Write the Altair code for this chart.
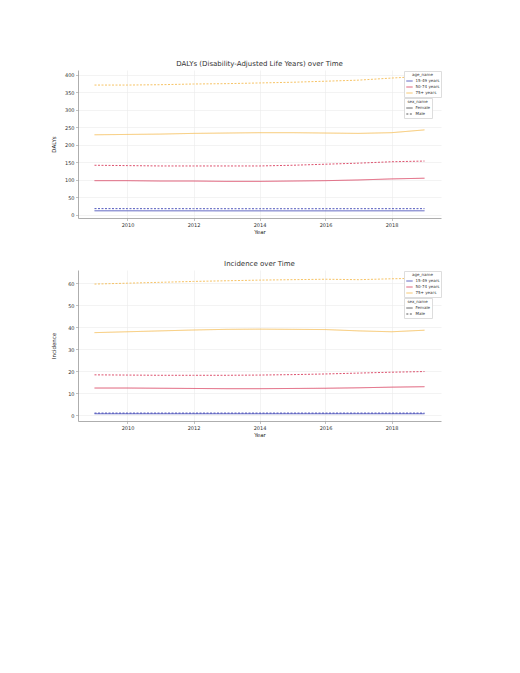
import altair as alt
import pandas as pd

years = list(range(2009, 2020))
ages = ["15-49 years", "50-74 years", "75+ years"]
sexes = ["Female", "Male"]

# DALYs
daly_1549_f = [12.0, 12.0, 11.9, 11.9, 11.8, 11.8, 11.8, 11.8, 11.9, 11.9, 12.0]
daly_1549_m = [18.2, 18.1, 18.0, 18.0, 17.9, 17.9, 17.9, 17.9, 18.0, 18.0, 18.1]
daly_5074_f = [98, 98, 97, 97, 96, 96, 97, 98, 100, 103, 105]
daly_5074_m = [142, 141, 140, 140, 140, 140, 142, 145, 148, 152, 154]
daly_75_f = [229, 230, 231, 233, 234, 235, 235, 234, 233, 235, 243]
daly_75_m = [371, 371, 372, 374, 375, 377, 379, 382, 385, 391, 396]

# Incidence
inc_1549_f = [0.6, 0.6, 0.6, 0.6, 0.6, 0.6, 0.6, 0.6, 0.6, 0.6, 0.6]
inc_1549_m = [0.9, 0.9, 0.9, 0.9, 0.9, 0.9, 0.9, 0.9, 0.9, 0.9, 0.9]
inc_5074_f = [12.3, 12.3, 12.2, 12.1, 12.0, 12.0, 12.1, 12.2, 12.4, 12.7, 12.9]
inc_5074_m = [18.3, 18.2, 18.1, 18.1, 18.1, 18.2, 18.4, 18.7, 19.1, 19.5, 19.8]
inc_75_f = [37.5, 37.9, 38.3, 38.7, 39.0, 39.1, 39.0, 38.9, 38.3, 37.9, 38.6]
inc_75_m = [59.6, 60.0, 60.4, 60.8, 61.1, 61.4, 61.6, 61.8, 61.6, 62.0, 62.3]

x_ticks = [2010, 2012, 2014, 2016, 2018]
daly_ticks = [0, 50, 100, 150, 200, 250, 300, 350, 400]
inc_ticks = [0, 10, 20, 30, 40, 50, 60]

colors = ["#3d45b5", "#d9405f", "#f5bd55"]


def frame(series):
    rows = []
    for (age, sex), vals in series.items():
        for y, v in zip(years, vals):
            rows.append({"year": y, "age_name": age, "sex_name": sex, "val": v})
    return pd.DataFrame(rows)


daly_df = frame({
    ("15-49 years", "Female"): daly_1549_f,
    ("15-49 years", "Male"): daly_1549_m,
    ("50-74 years", "Female"): daly_5074_f,
    ("50-74 years", "Male"): daly_5074_m,
    ("75+ years", "Female"): daly_75_f,
    ("75+ years", "Male"): daly_75_m,
})
inc_df = frame({
    ("15-49 years", "Female"): inc_1549_f,
    ("15-49 years", "Male"): inc_1549_m,
    ("50-74 years", "Female"): inc_5074_f,
    ("50-74 years", "Male"): inc_5074_m,
    ("75+ years", "Female"): inc_75_f,
    ("75+ years", "Male"): inc_75_m,
})

W = 363


def panel(df, title, ytitle, ydomain, yticks, h):
    return alt.Chart(df, title=alt.Title(title, fontSize=7, fontWeight="normal",
                                         color="#333333", offset=3)).mark_line(
        strokeWidth=1, opacity=0.9
    ).encode(
        x=alt.X("year:Q", title="Year",
                scale=alt.Scale(domain=[2008.5, 2019.5], nice=False, zero=False),
                axis=alt.Axis(values=x_ticks, format="d")),
        y=alt.Y("val:Q", title=ytitle,
                scale=alt.Scale(domain=ydomain, nice=False, zero=False),
                axis=alt.Axis(values=yticks)),
        color=alt.Color("age_name:N", title="age_name",
                        scale=alt.Scale(domain=ages, range=colors),
                        legend=alt.Legend(orient="none", legendX=W - 37, legendY=1,
                                          symbolDash=[1, 0])),
        strokeDash=alt.StrokeDash("sex_name:N", title="sex_name",
                                  scale=alt.Scale(domain=sexes, range=[[1, 0], [2, 1.5]]),
                                  legend=alt.Legend(orient="none", legendX=W - 37, legendY=28,
                                                    symbolStrokeColor="#444444")),
        detail="sex_name:N",
    ).properties(width=W, height=h)


c1 = panel(daly_df, "DALYs (Disability-Adjusted Life Years) over Time", "DALYs",
           [-8.6, 414], daly_ticks, 148)
c2 = panel(inc_df, "Incidence over Time", "Incidence", [-2.7, 66], inc_ticks, 151)

chart = alt.vconcat(c1, c2, spacing=25).resolve_legend(
    color="independent", strokeDash="independent"
).properties(
    padding={"left": 43, "top": 52, "right": 5, "bottom": 5}
).configure_view(stroke=None).configure_axis(
    labelFont="DejaVu Sans", titleFont="DejaVu Sans", labelFontSize=5, titleFontSize=5.5,
    titleFontWeight="normal",
    labelColor="#333333", titleColor="#222222", gridColor="#ebebeb", gridWidth=0.6,
    domainColor="#999999", domainWidth=0.8, tickColor="#999999", tickSize=2.5, tickWidth=0.6,
    labelPadding=1.5, titlePadding=2,
).configure_axisY(minExtent=20, maxExtent=20).configure_legend(
    labelFont="DejaVu Sans", titleFont="DejaVu Sans", labelFontSize=4, titleFontSize=4,
    titleFontWeight="normal", titleColor="#333333", labelColor="#333333",
    fillColor="white", strokeColor="#dddddd", padding=1.5, rowPadding=0,
    symbolSize=40, symbolStrokeWidth=1, symbolType="stroke", titlePadding=0.5,
    titleAnchor="middle", labelOffset=2,
).configure_title(font="DejaVu Sans", anchor="middle")

chart.save("out.html", embed_options={"renderer": "svg", "actions": False})
